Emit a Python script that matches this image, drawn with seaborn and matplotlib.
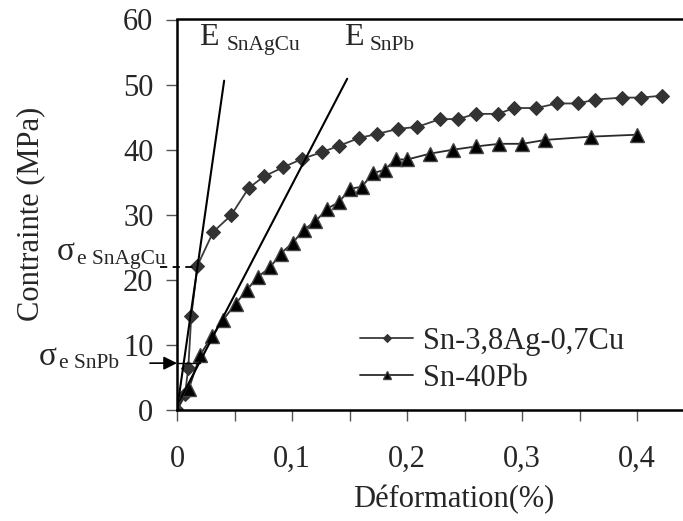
import numpy as np
import pandas as pd
import matplotlib
matplotlib.use("Agg")
import matplotlib.pyplot as plt
import seaborn as sns

# strain (%) / stress (MPa)
sac_strain = [0, 0.007, 0.0098, 0.0124, 0.0178, 0.0316, 0.047, 0.0623, 0.0757, 0.0924,
              0.109, 0.1258, 0.1409, 0.1585, 0.1737, 0.1924, 0.209, 0.2287, 0.244, 0.26,
              0.2789, 0.2933, 0.3122, 0.3307, 0.349, 0.3635, 0.3872, 0.4035, 0.422]
sac_stress = [0, 2.5, 6.4, 14.4, 22.2, 27.4, 29.9, 34.1, 35.9, 37.3,
              38.6, 39.6, 40.6, 41.8, 42.4, 43.2, 43.5, 44.7, 44.7, 45.5,
              45.5, 46.4, 46.4, 47.1, 47.1, 47.7, 48.0, 48.0, 48.3]

snpb_strain = [0, 0.0104, 0.020, 0.0302, 0.0403, 0.0509, 0.0609, 0.0707, 0.0809, 0.09,
               0.1006, 0.1104, 0.1204, 0.1306, 0.141, 0.1507, 0.1606, 0.1707, 0.1805, 0.19,
               0.2004, 0.2203, 0.2403, 0.2603, 0.2804, 0.3004, 0.3203, 0.36, 0.4003]
snpb_stress = [0, 3.3, 8.4, 11.3, 13.9, 16.3, 18.5, 20.5, 21.9, 24.0,
               25.7, 27.7, 29.0, 30.9, 32.0, 34.0, 34.3, 36.4, 36.9, 38.5,
               38.5, 39.4, 40.0, 40.5, 40.9, 40.9, 41.5, 42.0, 42.3]

# young modulus lines
e_sac_x = [0, 0.041]
e_sac_y = [0, 50.6]
e_snpb_x = [-0.002, 0.148]
e_snpb_y = [0, 50.9]

# yield stresses
sigma_sac = 21.9
sigma_snpb = 7.2

series_labels = ['Sn-3,8Ag-0,7Cu', 'Sn-40Pb']
x_ticks = [0, 0.1, 0.2, 0.3, 0.4]
x_ticklabels = ['0', '0,1', '0,2', '0,3', '0,4']
y_ticks = [0, 10, 20, 30, 40, 50, 60]

sns.set_style("ticks")
plt.rcParams['font.family'] = ['Liberation Serif', 'DejaVu Serif']
plt.rcParams['font.size'] = 22

df_sac = pd.DataFrame({'x': sac_strain, 'y': sac_stress})
df_snpb = pd.DataFrame({'x': snpb_strain, 'y': snpb_stress})

fig = plt.figure(figsize=(6.83, 5.21), dpi=100)
ax = fig.add_axes([177/683, 111/521, 506/683, 390.5/521])

sns.lineplot(data=df_sac, x='x', y='y', sort=False, estimator=None, ax=ax,
             color='#3a3a3a', lw=1.3, marker='D', markersize=7.5,
             markerfacecolor='#333333', markeredgecolor='#333333',
             label=series_labels[0])
sns.lineplot(data=df_snpb, x='x', y='y', sort=False, estimator=None, ax=ax,
             color='#2a2a2a', lw=1.3, marker='^', markersize=10,
             markerfacecolor='black', markeredgecolor='#444444', markeredgewidth=1,
             label=series_labels[1])

sns.lineplot(x=e_sac_x, y=e_sac_y, sort=False, estimator=None, ax=ax,
             color='black', lw=1.5, legend=False)
sns.lineplot(x=e_snpb_x, y=e_snpb_y, sort=False, estimator=None, ax=ax,
             color='black', lw=1.5, legend=False)

# yield markers
ax.plot([-0.015, 0.018], [sigma_sac, sigma_sac], color='black', lw=1.3,
        ls=(0, (4, 3)), clip_on=False)
ax.plot([0, 0.02], [sigma_snpb, sigma_snpb], color='black', lw=1.0, clip_on=False)
ax.annotate('', xy=(0, sigma_snpb), xytext=(-0.0235, sigma_snpb),
            xycoords='data', annotation_clip=False,
            arrowprops=dict(arrowstyle='-|>', color='black', lw=1.2,
                            mutation_scale=20, shrinkA=0, shrinkB=0))

# labels
ax.text(0.0191, 56.1, 'E', fontsize=23, va='baseline')
ax.text(0.0435, 55.3, 'SnAgCu', fontsize=15.5, va='baseline')
ax.text(0.1455, 56.1, 'E', fontsize=23, va='baseline')
ax.text(0.1678, 55.3, 'SnPb', fontsize=15.5, va='baseline')

ax.text(-0.1043, 23.0, 'σ', fontsize=24, va='baseline')
ax.text(-0.087, 22.4, 'e SnAgCu', fontsize=15.5, va='baseline')
ax.text(-0.12, 6.9, 'σ', fontsize=24, va='baseline')
ax.text(-0.103, 6.4, 'e SnPb', fontsize=15.5, va='baseline')

ax.set_xlim(0, 0.44)
ax.set_ylim(0, 60)
ax.set_xticks(x_ticks)
ax.set_xticklabels(x_ticklabels)
ax.set_xticks([0.05, 0.15, 0.25, 0.35], minor=True)
ax.set_yticks(y_ticks)
ax.tick_params(axis='both', which='both', direction='out', length=8, width=1,
               color='#555555', labelsize=22)
ax.tick_params(axis='x', pad=17)
ax.tick_params(axis='y', pad=9)

for s in ['left', 'bottom', 'top']:
    ax.spines[s].set_linewidth(1.8)
    ax.spines[s].set_color('black')
ax.spines['right'].set_visible(False)

ax.set_xlabel('Déformation(%)', fontsize=22)
ax.set_ylabel('Contrainte (MPa)', fontsize=22)
ax.xaxis.set_label_coords(0.547, -0.193)
ax.yaxis.set_label_coords(-0.29, 0.502)
ax.yaxis.label.set_va('center')

ax.legend(loc='upper left', bbox_to_anchor=(183/506, 83/390.5), frameon=False,
          borderaxespad=0, borderpad=0, handlelength=1.75, handletextpad=0.3,
          labelspacing=0.25, markerscale=0.6, fontsize=22)

fig.savefig('out.png', dpi=100)
